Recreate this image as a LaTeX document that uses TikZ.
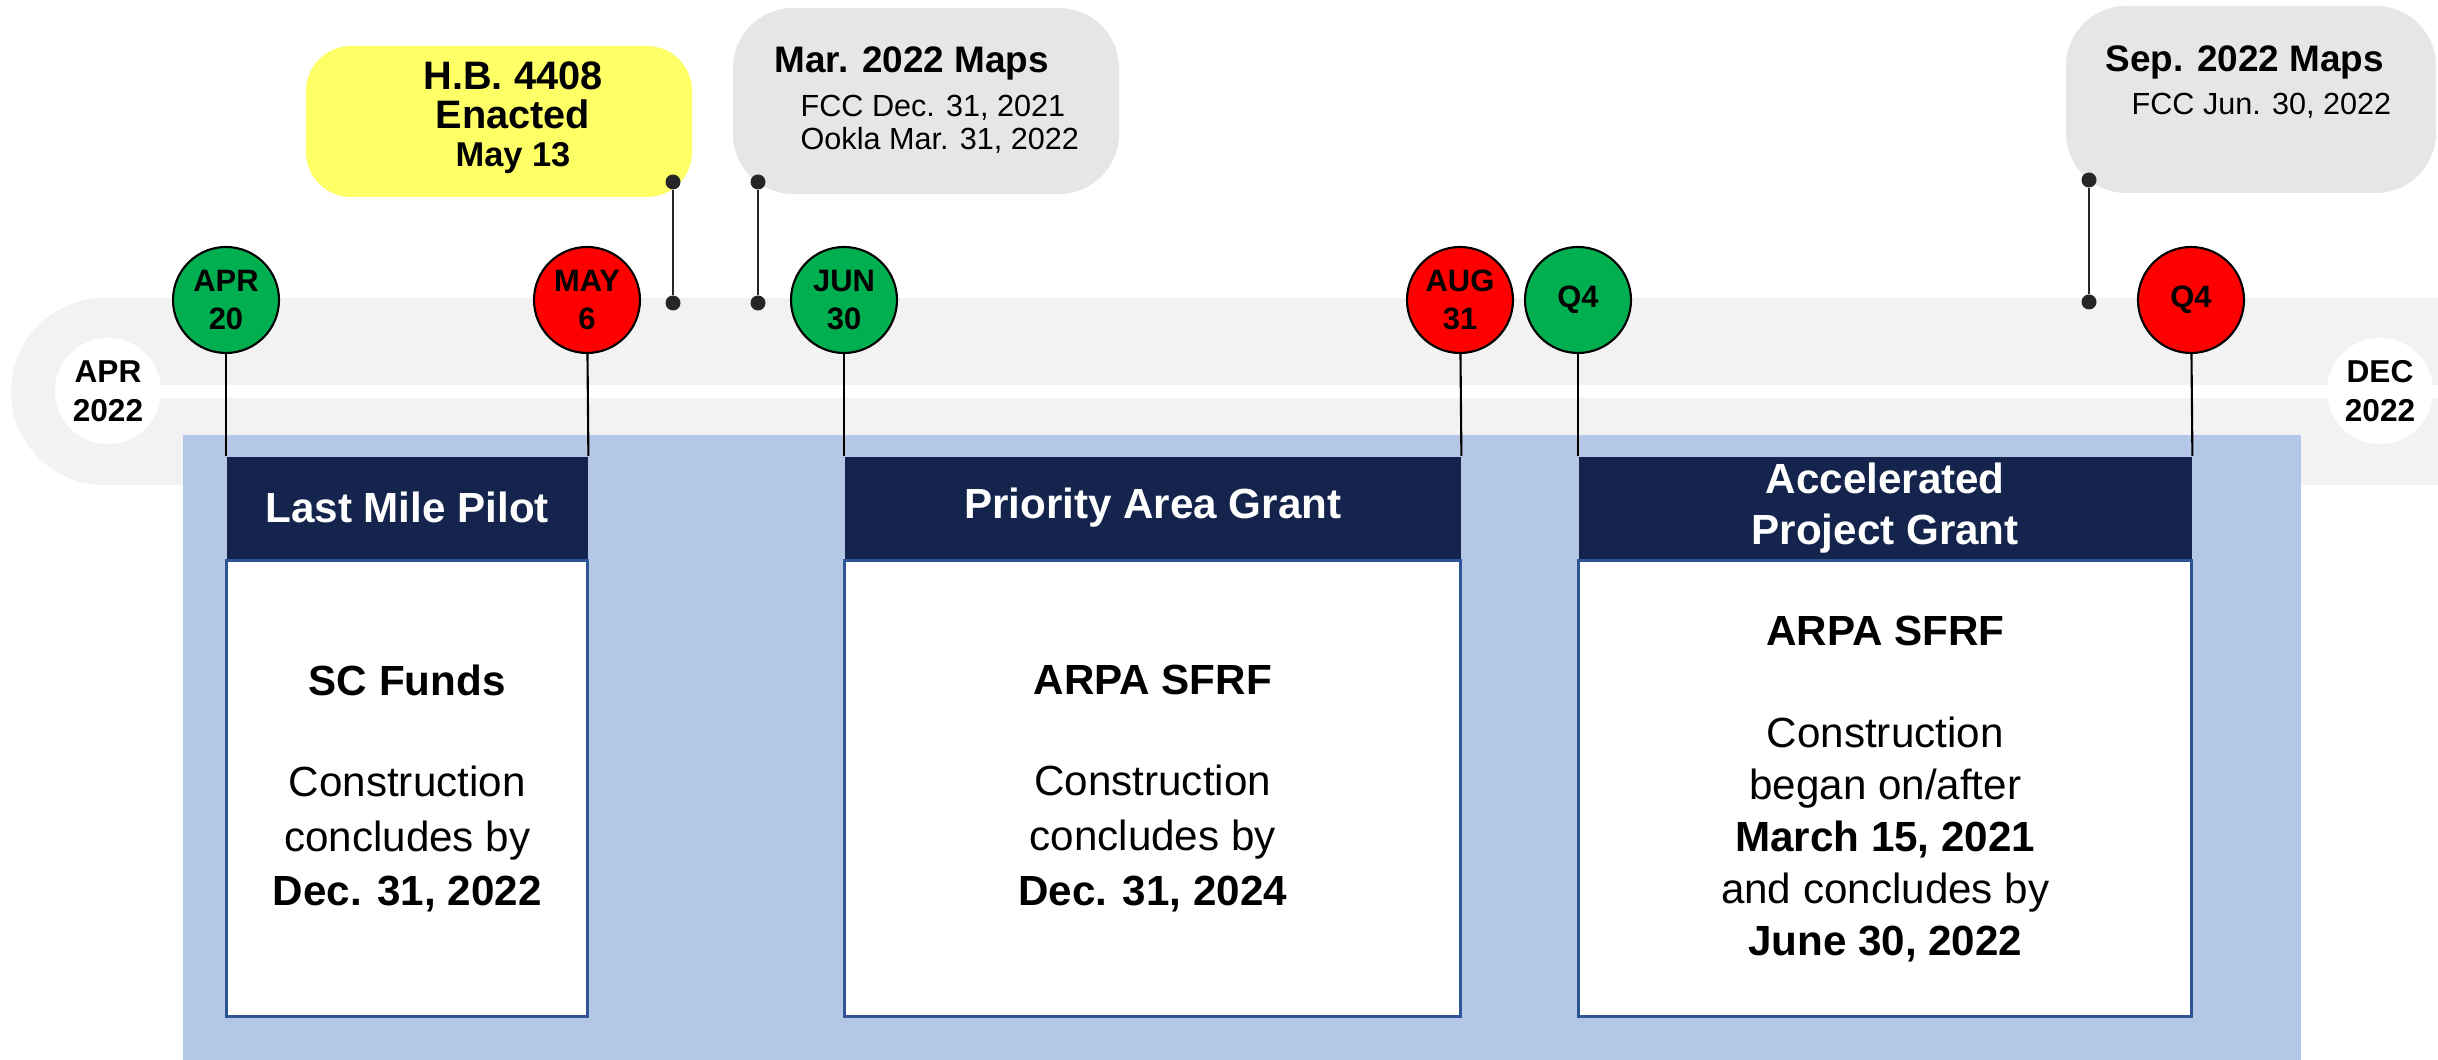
\documentclass[tikz,border=0pt]{standalone}
\usepackage{fontspec}
\setmainfont{Liberation Sans}
\usetikzlibrary{positioning, calc}

\definecolor{bandgray}{HTML}{F2F2F2}
\definecolor{calloutgray}{HTML}{E7E6E6}
\definecolor{hbyellow}{HTML}{FFFF66}
\definecolor{mgreen}{HTML}{00B050}
\definecolor{mred}{HTML}{FF0000}
\definecolor{navy}{HTML}{15244C}
\definecolor{lightblue}{HTML}{B4C7E7}
\definecolor{bodyblue}{HTML}{2F5597}
\definecolor{pingray}{HTML}{262626}

\tikzset{
  milestone/.style={circle, draw=black, line width=0.6pt, minimum size=1.06cm, inner sep=0pt, align=center, font=\fontsize{8.8}{10.6}\selectfont\bfseries},
  yearcirc/.style={circle, fill=white, minimum size=1.06cm, inner sep=0pt, align=center, font=\fontsize{9}{11}\selectfont\bfseries},
  headbox/.style={fill=navy, text=white, minimum height=1.02cm, inner sep=0pt, align=center, anchor=north west, font=\fontsize{12}{14.5}\selectfont\bfseries},
  bodybox/.style={fill=white, draw=bodyblue, line width=0.7pt, minimum height=4.56cm, inner sep=0pt, align=center, anchor=north, font=\fontsize{12}{15.6}\selectfont},
  conn/.style={draw=black, line width=0.6pt},
  pindot/.style={circle, fill=pingray, minimum size=0.15cm, inner sep=0pt},
  pinline/.style={draw=pingray, line width=0.8pt},
  callout/.style={fill=calloutgray, rounded corners=0.6cm, inner sep=0pt},
  maptitle/.style={anchor=base west, inner sep=0pt, font=\fontsize{10.5}{12}\selectfont\bfseries},
  mapline/.style={anchor=base west, inner sep=0pt, font=\fontsize{8.7}{9.4}\selectfont},
}

\begin{document}
\begin{tikzpicture}
  \useasboundingbox (0,0) rectangle (24.38,10.6);

  % timeline band
  \fill[bandgray] (1.045,5.75) rectangle (24.38,7.62);
  \fill[bandgray] (1.045,6.685) circle (0.935);
  \fill[white] (1.08,6.62) rectangle (24.38,6.75);
  \node[yearcirc] (start) at (1.08,6.69) {APR\\2022};
  \node[yearcirc] (end) at (23.80,6.69) {DEC\\2022};

  % programs
  \fill[lightblue] (1.83,0) rectangle (23.01,6.25);

  \node[headbox, minimum width=3.61cm] (lmp) at (2.26,6.04) {Last Mile Pilot};
  \node[bodybox, minimum width=3.61cm] (lmpbody) at (lmp.south)
    {\textbf{SC Funds}\\[0.46cm]Construction\\concludes by\\\textbf{Dec. 31, 2022}};

  \node[headbox, minimum width=6.16cm] (pag) at (8.44,6.04) {Priority Area Grant};
  \node[bodybox, minimum width=6.16cm] (pagbody) at (pag.south)
    {\textbf{ARPA SFRF}\\[0.46cm]Construction\\concludes by\\\textbf{Dec. 31, 2024}};

  \node[headbox, minimum width=6.13cm] (apg) at (15.78,6.04) {Accelerated\\Project Grant};
  \node[bodybox, minimum width=6.13cm, font=\fontsize{12}{14.8}\selectfont] (apgbody) at (apg.south)
    {\textbf{ARPA SFRF}\\[0.50cm]Construction\\began on/after\\\textbf{March 15, 2021}\\and concludes by\\\textbf{June 30, 2022}};

  % milestones
  \foreach \nm/\x/\col/\txt in {apr/2.26/mgreen/{APR\\20}, may/5.87/mred/{MAY\\6}, jun/8.44/mgreen/{JUN\\30},
                                aug/14.60/mred/{AUG\\31}, qa/15.78/mgreen/Q4, qb/21.91/mred/Q4}
    \node[milestone, fill=\col] (\nm) at (\x,7.60) {\txt};

  \draw[conn] (apr) -- (lmp.north west);
  \draw[conn] (may) -- (lmp.north east);
  \draw[conn] (jun) -- (pag.north west);
  \draw[conn] (aug) -- (pag.north east);
  \draw[conn] (qa) -- (apg.north west);
  \draw[conn] (qb) -- (apg.north east);

  % callouts
  \node[callout, fill=hbyellow, rounded corners=0.45cm, minimum width=3.86cm, minimum height=1.51cm] (hb) at (4.99,9.385) {};
  \node[align=center, inner sep=0pt, font=\fontsize{11.3}{10.9}\selectfont\bfseries] (hbtxt) at (5.13,9.42)
    {H.B. 4408\\Enacted\\{\fontsize{9.8}{10.9}\selectfont May 13}};

  \node[callout, minimum width=3.86cm, minimum height=1.86cm] (mar) at (9.26,9.59) {};
  \node[maptitle] (martitle) at (7.74,9.87) {Mar. 2022 Maps};
  \node[mapline] (marfcc) at (8.00,9.43) {FCC Dec. 31, 2021};
  \node[mapline] (marookla) at (8.00,9.10) {Ookla Mar. 31, 2022};

  \node[callout, minimum width=3.70cm, minimum height=1.87cm] (sep) at (22.51,9.605) {};
  \node[maptitle] (septitle) at (21.05,9.88) {Sep. 2022 Maps};
  \node[mapline] (sepfcc) at (21.31,9.45) {FCC Jun. 30, 2022};

  % pins
  \node[pindot] (hbtop) at (6.73,8.78) {};
  \node[pindot] (hbbot) at (6.73,7.57) {};
  \draw[pinline] (hbtop) -- (hbbot);
  \node[pindot] (martop) at (7.58,8.78) {};
  \node[pindot] (marbot) at (7.58,7.57) {};
  \draw[pinline] (martop) -- (marbot);
  \node[pindot] (septop) at (20.89,8.80) {};
  \node[pindot] (sepbot) at (20.89,7.58) {};
  \draw[pinline] (septop) -- (sepbot);
\end{tikzpicture}
\end{document}
